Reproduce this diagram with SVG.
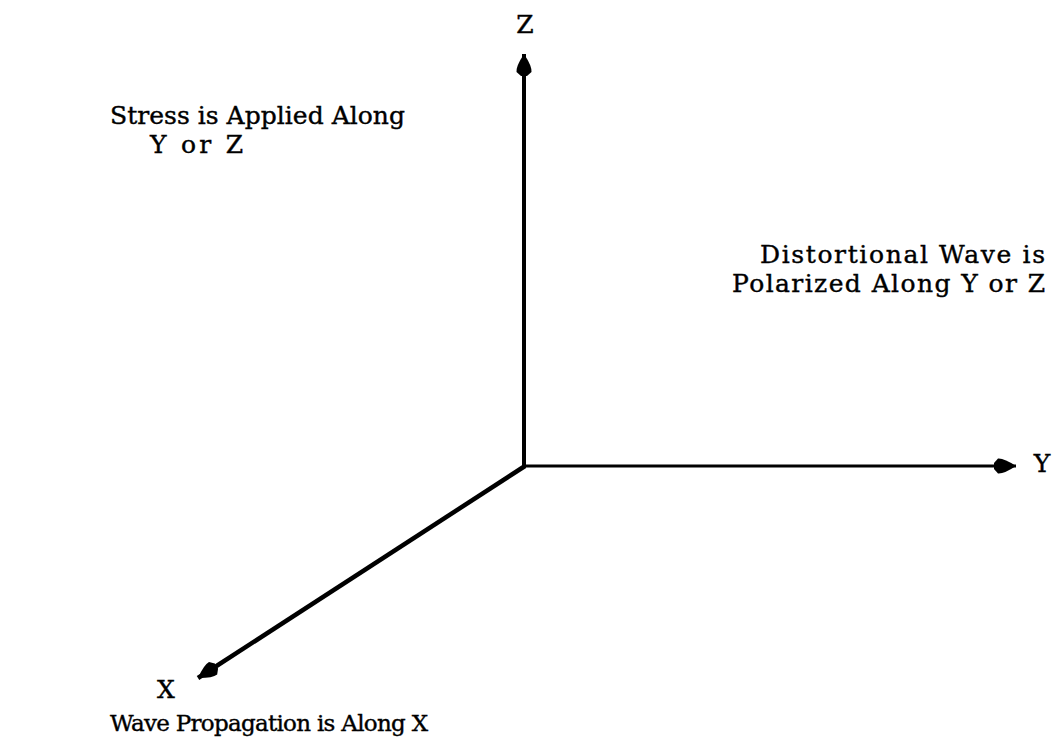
<svg xmlns="http://www.w3.org/2000/svg" width="1063" height="744" viewBox="0 0 1063 744">
<style>
.t{font-family:"DejaVu Serif","Liberation Serif",serif;font-size:25px;fill:#000;stroke:#000;stroke-width:0.4}
.s{font-size:23px}
.ax{stroke:#000;fill:none;stroke-linecap:butt}
</style>
<defs>
<marker id="ah" markerUnits="userSpaceOnUse" markerWidth="26" markerHeight="20" refX="22" refY="10" orient="auto">
<path d="M0,7 L4,2.5 Q10,2 22,10 Q10,18 4,17.5 L0,13 Z" fill="#000"/>
</marker>
</defs>
<rect width="1063" height="744" fill="#fff"/>
<g id="connectors">
<line class="ax" x1="524" y1="468" x2="524" y2="54" stroke-width="4" marker-end="url(#ah)"/>
<line class="ax" x1="522" y1="466" x2="1016" y2="466" stroke-width="3" marker-end="url(#ah)"/>
<line class="ax" x1="525" y1="466" x2="198" y2="678" stroke-width="4.5" marker-end="url(#ah)"/>
</g>
<g id="axis-z"><text class="t" x="525" y="33" text-anchor="middle">Z</text></g>
<g id="axis-y"><text class="t" x="1042" y="472" text-anchor="middle">Y</text></g>
<g id="axis-x"><text class="t" x="166" y="698" text-anchor="middle">X</text></g>
<g id="stress"><text class="t" x="110" y="124" textLength="295">Stress is Applied Along</text><text class="t" x="150" y="153" textLength="93">Y or Z</text></g>
<g id="distortional"><text class="t" x="760" y="263" textLength="285">Distortional Wave is</text><text class="t" x="732" y="292" textLength="313">Polarized Along Y or Z</text></g>
<g id="propagation"><text class="t s" x="110" y="731" textLength="318">Wave Propagation is Along X</text></g>
</svg>
